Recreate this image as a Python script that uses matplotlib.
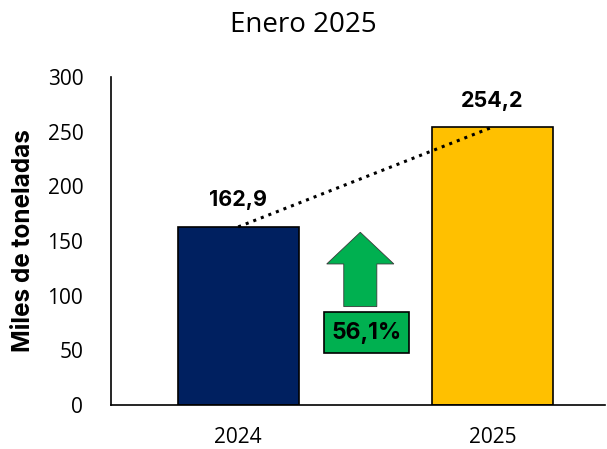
import matplotlib
matplotlib.use("Agg")
import matplotlib.pyplot as plt
from matplotlib.patches import FancyArrow, Rectangle

plt.rcParams['font.family'] = ['Open Sans', 'DejaVu Sans']
bold_font = ['Inter', 'DejaVu Sans']

# data
years = ['2024', '2025']
values = [162.9, 254.2]
value_labels = ['162,9', '254,2']
growth_label = '56,1%'
bar_colors = ['#002060', '#FFC000']

fig = plt.figure(figsize=(6.07, 4.49), dpi=100)
ax = fig.add_axes([0.183, 0.098, 0.814, 0.7305])

x = list(range(len(years)))
ax.bar(x, values, width=0.476, color=bar_colors, edgecolor='black', linewidth=1.2, zorder=2)

# dotted line joining the bar tops
ax.plot(x, values, linestyle=':', color='black', linewidth=2.2, zorder=3)

for xi, v, lab in zip(x, values, value_labels):
    ax.text(xi, v + 15, lab, ha='center', va='bottom', fontsize=15.5, fontweight='bold',
            family=bold_font, color='black')

# growth arrow and label box
arrow = FancyArrow(0.48, 90, 0, 68, width=0.13, head_width=0.264, head_length=29,
                   length_includes_head=True, facecolor='#00B050', edgecolor='#3a3a3a',
                   linewidth=0.6, zorder=3)
ax.add_patch(arrow)
ax.add_patch(Rectangle((0.337, 47.5), 0.334, 37.5, facecolor='#00B050', edgecolor='black',
                       linewidth=1.2, zorder=3))
ax.text(0.504, 66, growth_label, ha='center', va='center', fontsize=16.5, fontweight='bold',
        family=bold_font, color='black', zorder=4)

ax.set_xlim(-0.5, 1.443)
ax.set_ylim(0, 300)
ax.set_yticks([0, 50, 100, 150, 200, 250, 300])
ax.set_xticks(x)
ax.set_xticklabels(years)
ax.tick_params(axis='both', length=0, labelsize=15, colors='black')
ax.tick_params(axis='y', pad=20)
ax.tick_params(axis='x', pad=16)

for s in ['top', 'right']:
    ax.spines[s].set_visible(False)
ax.spines['left'].set_linewidth(1.2)
ax.spines['bottom'].set_linewidth(1.2)

ax.set_ylabel('Miles de toneladas', fontsize=17.5, fontweight='bold', family=bold_font,
              labelpad=9)
fig.suptitle('Enero 2025', fontsize=20, y=0.975)

fig.savefig('out.png', dpi=100)
